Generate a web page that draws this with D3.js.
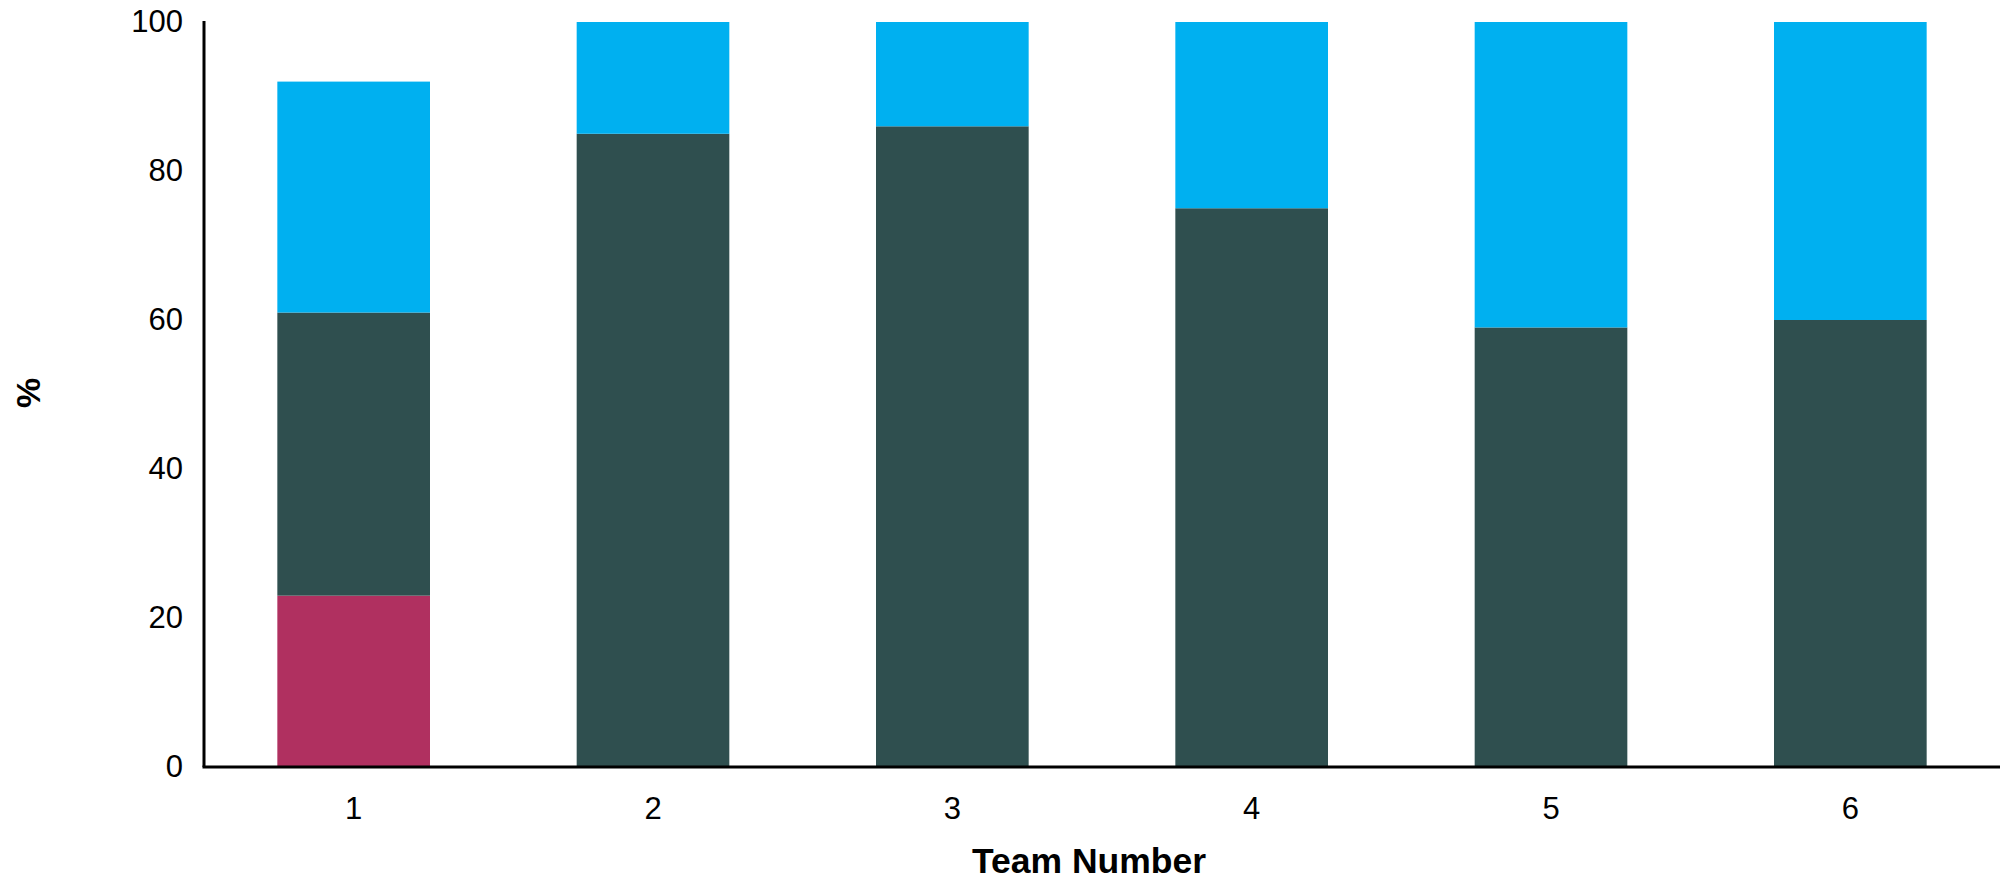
<!DOCTYPE html>
<html>
<head>
<meta charset="utf-8">
<script src="https://cdn.jsdelivr.net/npm/d3@7"></script>
<style>
  html, body { margin: 0; padding: 0; background: #fff; }
  svg { display: block; font-family: "Liberation Sans", Arial, sans-serif; }
</style>
</head>
<body>
<svg id="chart" width="2008" height="880"></svg>
<script>
const teams = ["1", "2", "3", "4", "5", "6"];
const seriesNames = ["pink", "dark", "blue"];
const pinkValues = [23, 0, 0, 0, 0, 0];
const darkValues = [38, 85, 86, 75, 59, 60];
const blueValues = [31, 15, 14, 25, 41, 40];
const yTicks = [0, 20, 40, 60, 80, 100];
const colors = { pink: "#B03060", dark: "#2F4F4F", blue: "#00B0F0" };

(function () {
const rows = teams.map((t, i) => ({ team: t, pink: pinkValues[i], dark: darkValues[i], blue: blueValues[i] }));
const stacked = d3.stack().keys(seriesNames)(rows);

const svg = d3.select("#chart");
const mLeft = 204, mRight = 2000, mTop = 22, mBottom = 767;

const x = d3.scaleBand().domain(teams).range([mLeft, mRight]).paddingInner(0.49).paddingOuter(0.245);
const y = d3.scaleLinear().domain([0, 100]).range([mBottom, mTop]);

svg.append("g").selectAll("g").data(stacked).join("g")
  .attr("fill", d => colors[d.key])
  .selectAll("rect").data(d => d).join("rect")
  .attr("x", d => x(d.data.team))
  .attr("width", x.bandwidth())
  .attr("y", d => y(d[1]))
  .attr("height", d => y(d[0]) - y(d[1]));

const yAxis = svg.append("g").attr("transform", `translate(${mLeft},0)`)
  .call(d3.axisLeft(y).tickValues(yTicks).tickSize(0).tickPadding(21));
yAxis.select(".domain").attr("stroke", "#000").attr("stroke-width", 3).attr("d", `M0,${mTop - 1}V${mBottom}`);
yAxis.selectAll("text").attr("font-size", 31).attr("fill", "#000").style("font-family", "Liberation Sans, Arial, sans-serif");

const xAxis = svg.append("g").attr("transform", `translate(0,${mBottom})`)
  .call(d3.axisBottom(x).tickSize(0).tickPadding(30));
xAxis.select(".domain").attr("stroke", "#000").attr("stroke-width", 3).attr("d", `M${mLeft - 1.5},0H${mRight}`);
xAxis.selectAll("text").attr("font-size", 31).attr("fill", "#000").style("font-family", "Liberation Sans, Arial, sans-serif");

svg.append("text")
  .attr("x", 1089).attr("y", 873)
  .attr("text-anchor", "middle")
  .attr("font-size", 35.5).attr("font-weight", "bold")
  .text("Team Number");

svg.append("text")
  .attr("transform", "translate(40,393) rotate(-90)")
  .attr("text-anchor", "middle")
  .attr("font-size", 34).attr("font-weight", "bold")
  .text("%");
})();
</script>
</body>
</html>
